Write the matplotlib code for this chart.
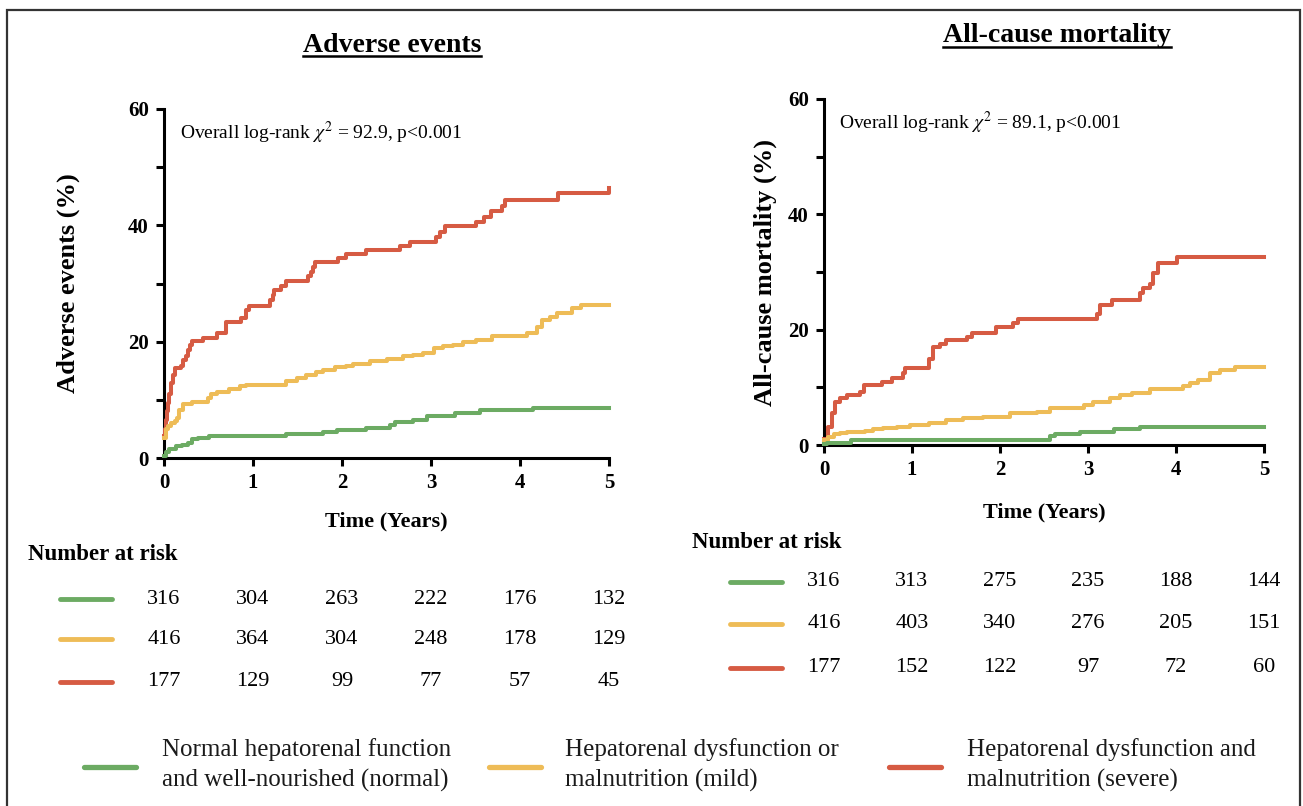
import matplotlib
matplotlib.use('Agg')
import matplotlib.pyplot as plt
import matplotlib.transforms as mtransforms
from matplotlib.lines import Line2D
from matplotlib.patches import Rectangle
from matplotlib.ticker import MultipleLocator

plt.rcParams['font.family'] = ['Liberation Serif', 'DejaVu Serif']
plt.rcParams['mathtext.fontset'] = 'stix'

# ---- Adverse events (cumulative %, step curves) ----
ae_normal_t = [0, 0.02, 0.06, 0.14, 0.2, 0.27, 0.32, 0.38, 0.51, 1.37, 1.79, 1.94, 2.27, 2.54, 2.59, 2.8, 2.95, 3.27, 3.55, 4.15, 5.0]
ae_normal_y = [0.3, 1.1, 1.5, 2.1, 2.3, 2.6, 3.3, 3.5, 3.7, 4.1, 4.4, 4.8, 5.2, 5.7, 6.2, 6.6, 7.2, 7.7, 8.2, 8.6, 8.6]

ae_mild_t = [0, 0.02, 0.04, 0.08, 0.12, 0.15, 0.17, 0.21, 0.32, 0.49, 0.53, 0.59, 0.73, 0.85, 0.92, 1.37, 1.49, 1.6, 1.71,
             1.79, 1.92, 2.05, 2.12, 2.31, 2.5, 2.69, 2.8, 2.91, 3.03, 3.14, 3.25, 3.36, 3.5, 3.68, 4.08, 4.19, 4.25, 4.34,
             4.42, 4.58, 4.68, 5.0]
ae_mild_y = [3.4, 4.9, 5.5, 6.0, 6.4, 6.8, 8.3, 9.2, 9.7, 10.3, 11.0, 11.4, 11.8, 12.3, 12.6, 13.2, 13.7, 14.3, 14.7,
             15.2, 15.6, 15.9, 16.2, 16.6, 17.0, 17.5, 17.7, 18.1, 18.9, 19.2, 19.5, 19.9, 20.3, 21.0, 21.5, 22.6, 23.8, 24.3,
             24.9, 25.8, 26.3, 26.3]

ae_severe_t = [0, 0.01, 0.02, 0.03, 0.04, 0.06, 0.08, 0.1, 0.12, 0.19, 0.21, 0.25, 0.27, 0.29, 0.31, 0.44, 0.59, 0.7, 0.87,
               0.92, 0.96, 1.19, 1.22, 1.24, 1.32, 1.37, 1.62, 1.65, 1.67, 1.7, 1.96, 2.05, 2.27, 2.65, 2.76, 3.06, 3.1,
               3.16, 3.5, 3.6, 3.67, 3.8, 3.83, 4.43, 5.0]
ae_severe_y = [3.7, 5.0, 6.5, 8.0, 9.4, 11.0, 12.9, 14.2, 15.5, 15.8, 16.9, 17.5, 18.6, 19.5, 20.1, 20.6, 21.5, 23.4, 24.0,
               25.4, 26.2, 27.2, 28.0, 28.8, 29.6, 30.5, 31.3, 32.0, 32.8, 33.7, 34.3, 35.0, 35.7, 36.4, 37.2, 38.0, 38.9,
               39.8, 40.5, 41.5, 42.4, 43.3, 44.4, 45.5, 46.4]

# ---- All-cause mortality ----
acm_normal_t = [0, 0.03, 0.31, 2.57, 2.62, 2.91, 3.29, 3.59, 5.0]
acm_normal_y = [0.2, 0.4, 0.9, 1.6, 1.9, 2.3, 2.7, 3.1, 3.1]

acm_mild_t = [0, 0.05, 0.11, 0.18, 0.26, 0.47, 0.56, 0.67, 0.83, 0.98, 1.19, 1.39, 1.58, 1.81, 2.11, 2.42, 2.57, 2.95,
              3.06, 3.25, 3.36, 3.5, 3.7, 4.08, 4.16, 4.25, 4.39, 4.5, 4.67, 5.0]
acm_mild_y = [0.9, 1.4, 1.9, 2.1, 2.3, 2.5, 2.7, 2.9, 3.2, 3.5, 3.8, 4.3, 4.6, 4.9, 5.5, 5.8, 6.4, 6.9,
              7.5, 8.1, 8.7, 9.0, 9.7, 10.2, 10.7, 11.3, 12.4, 13.0, 13.6, 13.6]

acm_severe_t = [0, 0.05, 0.09, 0.125, 0.18, 0.26, 0.41, 0.45, 0.66, 0.77, 0.9, 0.92, 1.19, 1.24, 1.32, 1.39, 1.62, 1.68,
                1.96, 2.15, 2.21, 3.1, 3.14, 3.27, 3.59, 3.63, 3.7, 3.74, 3.8, 4.01, 5.0]
acm_severe_y = [1.0, 3.2, 5.5, 7.5, 8.1, 8.7, 9.2, 10.4, 11.0, 11.6, 12.4, 13.3, 15.0, 17.0, 17.6, 18.2, 18.8, 19.4,
                20.5, 21.1, 21.8, 22.8, 24.3, 25.1, 26.3, 27.2, 28.0, 29.8, 31.5, 32.6, 32.6]

# ---- number at risk (years 0..5) ----
risk_years = [0, 1, 2, 3, 4, 5]
ae_risk = [[316, 304, 263, 222, 176, 132],
           [416, 364, 304, 248, 178, 129],
           [177, 129, 99, 77, 57, 45]]
acm_risk = [[316, 313, 275, 235, 188, 144],
            [416, 403, 340, 276, 205, 151],
            [177, 152, 122, 97, 72, 60]]

group_labels = ['Normal hepatorenal function\nand well-nourished (normal)',
                'Hepatorenal dysfunction or\nmalnutrition (mild)',
                'Hepatorenal dysfunction and\nmalnutrition (severe)']
colors = ['#6CAB63', '#EEBC57', '#D65B43']

W, H = 1303, 806
fig = plt.figure(figsize=(W / 100, H / 100), dpi=100)


def fx(x):
    return x / W


def fy(y):
    return 1 - y / H


ax1 = fig.add_axes([fx(164), fy(458), 445 / W, 349 / H])
ax2 = fig.add_axes([fx(824), fy(445), 440 / W, 346 / H])


def draw_panel(ax, curves, ylabel, stat, ylab_px, xlab_y):
    for (t, y), c in reversed(list(zip(curves, colors))):
        ax.step(t, y, where='post', color=c, lw=2.9, clip_on=False, zorder=3)
    ax.set_xlim(0, 5)
    ax.set_ylim(0, 60)
    ax.set_xticks(range(6))
    ax.set_yticks([0, 20, 40, 60])
    ax.yaxis.set_minor_locator(MultipleLocator(10))
    for s in ['top', 'right']:
        ax.spines[s].set_visible(False)
    for s in ['left', 'bottom']:
        ax.spines[s].set_linewidth(2.2)
    ax.tick_params(which='both', direction='out', length=6, width=2.2, pad=5)
    for lab in ax.get_xticklabels() + ax.get_yticklabels():
        lab.set_fontsize(15)
        lab.set_fontweight('bold')
    # y label placed in figure pixels, left of the tick labels
    fig.text(fx(ylab_px), ax.get_position().y0 + ax.get_position().height / 2, ylabel,
             rotation=90, fontsize=19, fontweight='bold', ha='center', va='center')
    ax.set_xlabel('Time (Years)', fontsize=16, fontweight='bold')
    ax.xaxis.set_label_coords(0.5, xlab_y)
    ax.xaxis.label.set_va('center')
    ax.text(0.035, 0.93, stat, transform=ax.transAxes, fontsize=14, va='center', ha='left')


draw_panel(ax1, [(ae_normal_t, ae_normal_y), (ae_mild_t, ae_mild_y), (ae_severe_t, ae_severe_y)],
           'Adverse events (%)', r'Overall log-rank $\chi^2$ = 92.9, p<0.001', 68, -0.183)
draw_panel(ax2, [(acm_normal_t, acm_normal_y), (acm_mild_t, acm_mild_y), (acm_severe_t, acm_severe_y)],
           'All-cause mortality (%)', r'Overall log-rank $\chi^2$ = 89.1, p<0.001', 765, -0.194)

# titles (underlined)
titles = [fig.text(fx(392), fy(45), 'Adverse events', fontsize=20, fontweight='bold', ha='center', va='center'),
          fig.text(fx(1057), fy(36), 'All-cause mortality', fontsize=20, fontweight='bold', ha='center', va='center')]


# risk tables
def risk_table(ax, risk, head_x, head_y, line_x0, line_x1, rows_y):
    fig.text(fx(head_x), fy(head_y), 'Number at risk', fontsize=16.5, fontweight='bold', ha='left', va='center')
    tr = mtransforms.blended_transform_factory(ax.transData, fig.transFigure)
    for row, c, ry in zip(risk, colors, rows_y):
        fig.add_artist(Line2D([fx(line_x0), fx(line_x1)], [fy(ry), fy(ry)], color=c, lw=3.5,
                              solid_capstyle='round', transform=fig.transFigure))
        for yr, n in zip(risk_years, row):
            fig.text(yr, fy(ry), str(n), transform=tr, fontsize=16, ha='center', va='center')


risk_table(ax1, ae_risk, 28, 555, 60, 112, [599, 639, 682])
risk_table(ax2, acm_risk, 692, 542, 730, 782, [582, 624, 668])

# bottom legend
for c, lx in zip(colors, [84, 489, 889]):
    fig.add_artist(Line2D([fx(lx), fx(lx + 52)], [fy(767), fy(767)], color=c, lw=3.8,
                          solid_capstyle='round', transform=fig.transFigure))
for lab, tx in zip(group_labels, [162, 565, 967]):
    fig.text(fx(tx), fy(765), lab, fontsize=18, ha='left', va='center', linespacing=1.4, color='#1a1a1a')

# outer frame
fig.add_artist(Rectangle((fx(7), -0.1), (1300 - 7) / W, fy(10) + 0.1, fill=False, lw=1.6,
                         edgecolor='#333333', transform=fig.transFigure, clip_on=False))

fig.canvas.draw()
renderer = fig.canvas.get_renderer()
inv = fig.transFigure.inverted()
for t in titles:
    bb = t.get_window_extent(renderer)
    (x0, y0), (x1, y1) = inv.transform([(bb.x0, bb.y0 + 2), (bb.x1, bb.y1)])
    fig.add_artist(Line2D([x0, x1], [y0, y0], color='black', lw=1.8, transform=fig.transFigure))

fig.savefig('out.png', dpi=100)
